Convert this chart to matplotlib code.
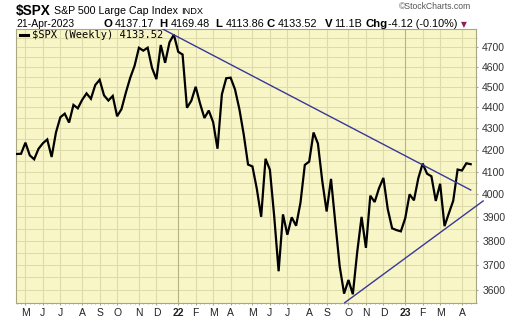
import matplotlib
matplotlib.use("Agg")
import matplotlib.pyplot as plt
from matplotlib.ticker import FixedLocator, NullFormatter
import pandas as pd
import numpy as np

# ---------------- data ----------------
start_week = "2021-04-23"
end_week = "2023-04-21"
closes = [
    4180.17, 4181.17, 4232.60, 4173.85, 4155.86, 4204.11, 4229.89, 4247.44, 4166.45, 4280.70,
    4352.34, 4369.55, 4327.16, 4411.79, 4395.26, 4436.52, 4468.00, 4441.67, 4509.37, 4535.43,
    4458.58, 4432.99, 4455.48, 4357.04, 4391.34, 4471.37, 4544.90, 4605.38, 4697.53, 4682.85,
    4697.96, 4594.62, 4538.43, 4712.02, 4620.64, 4725.79, 4766.18,
    4677.03, 4662.85, 4397.94, 4431.85, 4500.53, 4418.64, 4348.87, 4384.65, 4328.87, 4204.31,
    4463.12, 4543.06, 4545.86, 4488.28, 4392.59, 4271.78, 4131.93, 4123.34, 4023.89, 3901.36,
    4158.24, 4108.54, 3900.86, 3674.84, 3911.74, 3825.33, 3899.38, 3863.16, 3961.63, 4130.29,
    4145.19, 4280.15, 4228.48, 4057.66, 3924.26, 4067.36, 3873.33, 3693.23, 3585.62, 3639.66,
    3583.07, 3752.75, 3901.06, 3770.55, 3992.93, 3965.34, 4026.12, 4071.70, 3934.38, 3852.36,
    3844.82, 3839.50,
    3895.08, 3999.09, 3972.61, 4070.56, 4136.48, 4090.46, 4079.09, 3970.04, 4045.64, 3861.59,
    3916.64, 3970.99, 4109.31, 4105.02, 4137.64, 4133.52,
]
upper_trend_dates = ["2021-12-14", "2023-04-21"]
upper_trend_vals = [4794, 4018]
lower_trend_dates = ["2022-10-01", "2023-05-11"]
lower_trend_vals = [3550, 3970]
y_tick_vals = [3600, 3700, 3800, 3900, 4000, 4100, 4200, 4300, 4400, 4500, 4600, 4700]
month_letters = ["J", "F", "M", "A", "M", "J", "J", "A", "S", "O", "N", "D"]

dates = pd.date_range(start_week, end_week, freq="W-FRI")

# ---------------- styling ----------------
W, H = 520, 318
BG = "#f8f6c6"
GRID = "#dedbaa"
GRID_YEAR = "#b4b287"
FRAME = "#a9a783"
TREND = "#38389a"

fig = plt.figure(figsize=(W / 100, H / 100), dpi=100)
fig.patch.set_facecolor("white")
L, R, T, B = 16, 476, 29.3, 302.7
ax = fig.add_axes([L / W, 1 - B / H, (R - L) / W, (B - T) / H])
ax.set_facecolor(BG)

ax.set_yscale("log")
ax.set_ylim(3550, 4794)
x0 = dates[0] - pd.Timedelta(days=1.12)
x1 = dates[-1] + pd.Timedelta(days=8.5)
ax.set_xlim(x0, x1)

# grid: horizontal every 50
for v in np.arange(3550, 4800, 50):
    ax.axhline(v, color=GRID, lw=0.7, zorder=0)

# monthly gridlines at first week of each month
first_weeks = []
prev = None
for d in dates:
    key = (d.year, d.month)
    if key != prev:
        first_weeks.append(d)
        prev = key
first_weeks = first_weeks[1:] if first_weeks[0].day > 7 else first_weeks
for d in first_weeks:
    ax.axvline(d, color=GRID_YEAR if d.month == 1 else GRID, lw=0.8, zorder=0)

ax.plot(dates, closes, color="black", lw=1.6, zorder=3, solid_joinstyle="miter")
ax.plot(pd.to_datetime(upper_trend_dates), upper_trend_vals, color=TREND, lw=1.0, zorder=4)
ax.plot(pd.to_datetime(lower_trend_dates), lower_trend_vals, color=TREND, lw=1.0, zorder=4,
        clip_on=False)

for s in ax.spines.values():
    s.set_color(FRAME)
    s.set_linewidth(0.8)

# y axis on right
ax.yaxis.tick_right()
ax.yaxis.set_major_locator(FixedLocator(y_tick_vals))
ax.yaxis.set_major_formatter(matplotlib.ticker.FuncFormatter(lambda v, p: f"{int(round(v))}"))
ax.yaxis.set_minor_locator(FixedLocator(list(np.arange(3550, 4800, 50))))
ax.yaxis.set_minor_formatter(NullFormatter())
ax.tick_params(axis="y", which="major", length=1.5, color=FRAME, pad=3,
               labelsize=7.5, labelcolor="#333333")
ax.tick_params(axis="y", which="minor", length=1.0, color=FRAME)

# x axis
ax.set_xticks(first_weeks)
xlabels = [str(d.year % 100) if d.month == 1 else month_letters[d.month - 1] for d in first_weeks]
ax.set_xticklabels(xlabels)
for lab, d in zip(ax.get_xticklabels(), first_weeks):
    if d.month == 1:
        lab.set_fontweight("bold")
        lab.set_fontsize(8.5)
ax.set_xticks(dates, minor=True)
ax.tick_params(axis="x", which="major", length=1.5, color=FRAME, pad=2.5,
               labelsize=7.5, labelcolor="#222222")
ax.tick_params(axis="x", which="minor", length=1.0, width=0.6, color=FRAME)
for lab in ax.get_xticklabels() + ax.get_yticklabels():
    lab.set_fontfamily("Liberation Sans")


def ftext(x, y, s, **kw):
    kw.setdefault("family", "Liberation Sans")
    kw.setdefault("va", "center")
    kw.setdefault("ha", "left")
    kw.setdefault("color", "black")
    fig.text(x / W, 1 - y / H, s, **kw)


# header row 1
ftext(16, 11.5, "$SPX", fontsize=9.8, fontweight="bold")
ftext(54, 11.5, "S&P 500 Large Cap Index", fontsize=7.7)
ftext(181.5, 11.5, "INDX", fontsize=6.7)
ftext(471, 6.5, "\u00a9StockCharts.com", fontsize=6.2, color="#555555", ha="right")

# header row 2
ftext(16, 24, "21-Apr-2023", fontsize=7.5)
row2_bold = [(108.3, "O"), (163.3, "H"), (218.3, "L"), (270.2, "C"), (328.3, "V"), (377.0, "Chg")]
row2_vals = [(115.2, "4137.17"), (170.3, "4169.48"), (225.6, "4113.86"), (277.3, "4133.52"),
             (334.5, "11.1B"), (387.5, "-4.12 (-0.10%)")]
for x, s in row2_bold:
    ftext(x, 24, s, fontsize=8.2, fontweight="bold", ha="center")
for x, s in row2_vals:
    ftext(x, 24, s, fontsize=7.8)
ftext(460.5, 24.5, "\u25bc", fontsize=5.5, color="#8a1f5a", family="DejaVu Sans")

# legend
fig.add_artist(plt.Line2D([20 / W, 27.5 / W], [1 - 34.5 / H, 1 - 34.5 / H], color="black", lw=2.2))
ftext(31.5, 34.5, "$SPX (Weekly) 4133.52", fontsize=7.5, family="DejaVu Sans Mono")

fig.savefig("out.png", dpi=100, facecolor="white")
